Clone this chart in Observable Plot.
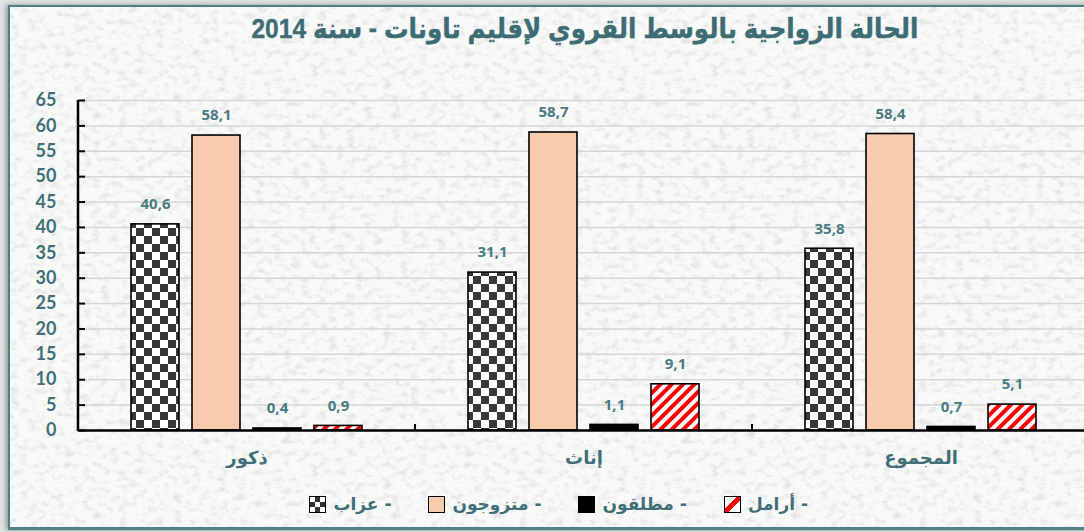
<!DOCTYPE html>
<html><head><meta charset="utf-8">
<script src="https://cdn.jsdelivr.net/npm/d3@7"></script>
<script src="https://cdn.jsdelivr.net/npm/@observablehq/plot@0.6"></script>
<style>
html,body{margin:0;padding:0;}
body{width:1084px;height:532px;overflow:hidden;background:#e3e3e3;position:relative;font-family:"DejaVu Sans",sans-serif;}
#frame{position:absolute;left:8px;top:5px;width:1100px;height:520px;border:2px solid #4d7f86;border-bottom-width:3px;box-shadow:-2px 0 5px rgba(0,0,0,.35);background:#f7f7f7;}
#title{position:absolute;left:0;top:13px;width:1170px;text-align:center;direction:rtl;font:bold 27px "Liberation Sans","DejaVu Sans",sans-serif;color:#3d6c74;white-space:nowrap;transform:scaleX(0.91);transform-origin:585px 0;-webkit-text-stroke:0.4px #3d6c74;}
#chart{position:absolute;left:0;top:60px;}
#legend{position:absolute;left:0;top:494px;width:808px;display:flex;direction:rtl;justify-content:flex-start;gap:37px;font:bold 17px "DejaVu Sans",sans-serif;color:#3f6f77;}
.item{display:flex;align-items:center;gap:7px;white-space:nowrap;}
.sw{width:15px;height:15px;border:1.5px solid #000;display:inline-block;}
</style></head>
<body>
<div id="frame"></div>
<div id="title">الحالة الزواجية بالوسط القروي لإقليم تاونات - سنة 2014</div>
<div id="chart"></div>
<div id="legend"></div>
<script>
const groups = ["ذكور", "إناث", "المجموع"];
const statuses = ["عزاب", "متزوجون", "مطلقون", "أرامل"];
const single = [40.6, 31.1, 35.8];
const married = [58.1, 58.7, 58.4];
const divorced = [0.4, 1.1, 0.7];
const widowed = [0.9, 9.1, 5.1];
const yTicks = [0, 5, 10, 15, 20, 25, 30, 35, 40, 45, 50, 55, 60, 65];
const fills = ["url(#checker)", "#f8cbad", "#000000", "url(#stripes)"];
const legendOrder = ["أرامل", "مطلقون", "متزوجون", "عزاب"];

// texture
const tex = `<svg xmlns='http://www.w3.org/2000/svg' width='400' height='400'><filter id='n'><feTurbulence type='fractalNoise' baseFrequency='0.11 0.16' numOctaves='3' seed='7'/><feColorMatrix values='0 0 0 0 0.62  0 0 0 0 0.62  0 0 0 0 0.62  0 0 0 1.4 -0.68'/></filter><rect width='100%' height='100%' fill='#f9f9f9'/><rect width='100%' height='100%' filter='url(#n)'/></svg>`;
document.getElementById("frame").style.backgroundImage = `url("data:image/svg+xml,${encodeURIComponent(tex)}")`;

const series = [single, married, divorced, widowed];
const data = [];
groups.forEach((g, gi) => statuses.forEach((s, si) => data.push({group: g, status: s, value: series[si][gi]})));
const fmt = v => v.toFixed(1).replace(".", ",");

const plot = Plot.plot({
  width: 1084, height: 420,
  marginTop: 40, marginBottom: 50, marginLeft: 78, marginRight: -5,
  style: {background: "transparent", fontFamily: "Lato, 'Open Sans', sans-serif"},
  fx: {domain: groups, padding: 0, label: null},
  x: {domain: statuses, paddingInner: 0.217, paddingOuter: 0.84, axis: null},
  y: {domain: [0, 65], label: null},
  color: {domain: statuses, range: fills},
  marks: [
    Plot.ruleY(yTicks.filter(t => t > 0), {stroke: "#d6d6d6", strokeWidth: 1.5}),
    Plot.barY(data, {fx: "group", x: "status", y: "value", fill: "status", stroke: "#000", strokeWidth: 1.6}),
    Plot.text(data, {fx: "group", x: "status", y: "value", text: d => fmt(d.value), dy: -20,
      fill: "#4a7b83", fontWeight: "bold", fontSize: 15, fontFamily: "'Open Sans', sans-serif"}),
    Plot.ruleY([0], {stroke: "#000", strokeWidth: 2.5}),
    Plot.axisY({ticks: yTicks, tickSize: -7, tickPadding: 29, tickFormat: d => String(d), fontSize: 18,
      fontWeight: "bold", fill: "#3f7079", stroke: "#000", strokeWidth: 2, label: null}),
    Plot.axisFx({anchor: "bottom", tickSize: 0, tickPadding: 21, fontSize: 18, fontWeight: "bold",
      fill: "#3f6f77", fontFamily: "'DejaVu Sans', sans-serif", label: null})
  ]
});

const svg = d3.select(plot);
const defs = svg.insert("defs", ":first-child");
const ck = defs.append("pattern").attr("id", "checker").attr("patternUnits", "userSpaceOnUse")
  .attr("width", 16).attr("height", 16);
ck.append("rect").attr("width", 16).attr("height", 16).attr("fill", "#fff");
ck.append("rect").attr("width", 8).attr("height", 8).attr("fill", "#383838");
ck.append("rect").attr("x", 8).attr("y", 8).attr("width", 8).attr("height", 8).attr("fill", "#383838");
const st = defs.append("pattern").attr("id", "stripes").attr("patternUnits", "userSpaceOnUse")
  .attr("width", 8).attr("height", 8).attr("patternTransform", "rotate(45)");
st.append("rect").attr("width", 8).attr("height", 8).attr("fill", "#fff");
st.append("rect").attr("width", 4).attr("height", 8).attr("fill", "#ff0000");

const y = plot.scale("y"), fx = plot.scale("fx");
const x0 = fx.apply(groups[0]);
svg.append("line").attr("x1", x0).attr("x2", x0).attr("y1", y.apply(65)).attr("y2", y.apply(0) + 1)
  .attr("stroke", "#000").attr("stroke-width", 2.5);
groups.slice(1).forEach(g => {
  const bx = fx.apply(g);
  svg.append("line").attr("x1", bx).attr("x2", bx).attr("y1", y.apply(0) - 6).attr("y2", y.apply(0))
    .attr("stroke", "#000").attr("stroke-width", 2);
});
document.getElementById("chart").appendChild(plot);

const swStyle = {
  "عزاب": "background:conic-gradient(#333 25%, #fff 0 50%, #333 0 75%, #fff 0) 0 0/10px 10px;",
  "متزوجون": "background:#f8cbad;",
  "مطلقون": "background:#000;",
  "أرامل": "background:linear-gradient(to bottom right, #fff 38%, #ff0000 38% 62%, #fff 62%);"
};
const leg = document.getElementById("legend");
legendOrder.forEach(s => {
  const it = document.createElement("div");
  it.className = "item";
  it.innerHTML = `<span>- ${s}</span><span class="sw" style="${swStyle[s]}"></span>`;
  leg.appendChild(it);
});
</script>
</body></html>
